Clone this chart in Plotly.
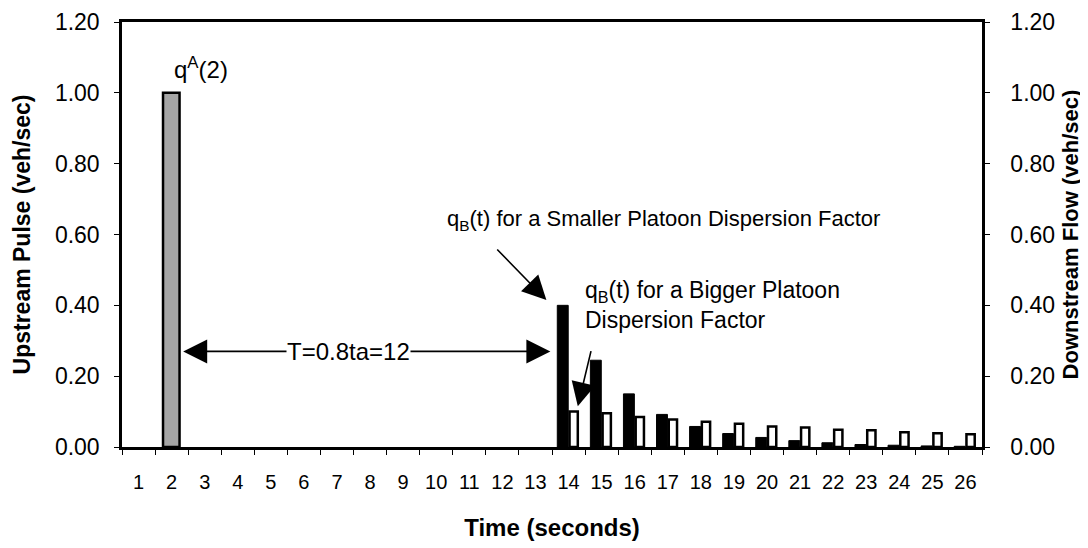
import plotly.graph_objects as go

# data
times = [str(t) for t in range(1, 27)]

pulse_t = ["2"]
pulse_q = [1.00]

flow_t = [str(t) for t in range(14, 27)]
smaller_factor = [0.40, 0.245, 0.15, 0.092, 0.058, 0.038, 0.027, 0.018, 0.012, 0.007, 0.005, 0.003, 0.002]
bigger_factor = [0.10, 0.095, 0.085, 0.078, 0.071, 0.066, 0.058, 0.055, 0.049, 0.047, 0.042, 0.039, 0.036]

y_ticks = [0, 0.2, 0.4, 0.6, 0.8, 1.0, 1.2]

FONT = "Liberation Sans, Arial, sans-serif"

fig = go.Figure()

fig.add_trace(go.Bar(
    x=pulse_t, y=pulse_q, yaxis="y",
    width=0.5, offset=-0.26,
    marker=dict(color="#a6a6a6", line=dict(color="#000000", width=2.5)),
    showlegend=False,
))
fig.add_trace(go.Bar(
    x=flow_t, y=smaller_factor, yaxis="y2",
    width=0.33, offset=-0.34,
    marker=dict(color="#000000", line=dict(color="#000000", width=1)),
    showlegend=False,
))
fig.add_trace(go.Bar(
    x=flow_t, y=bigger_factor, yaxis="y2",
    width=0.25, offset=0.03,
    marker=dict(color="#ffffff", line=dict(color="#000000", width=2.5)),
    showlegend=False,
))

arrow = dict(showarrow=True, arrowhead=2, arrowsize=3.0, arrowwidth=1.6,
             arrowcolor="#000000", axref="x", ayref="y", xref="x", yref="y", text="")

annotations = [
    # T double arrow
    dict(arrow, x=1.35, y=0.27, ax=6.3, ay=0.27),
    dict(arrow, x=12.45, y=0.27, ax=6.3, ay=0.27),
    dict(x=6.36, y=0.27, xref="x", yref="y", text="T=0.8ta=12", showarrow=False,
         font=dict(size=24, color="#000000"), bgcolor="#ffffff", borderpad=0),
    # pulse label
    dict(x=1.0, y=1.07, xref="x", yref="y", text="q<sup>A</sup>(2)", showarrow=False,
         xanchor="left", font=dict(size=24, color="#000000")),
    # smaller dispersion
    dict(x=9.25, y=0.64, xref="x", yref="y", showarrow=False, xanchor="left",
         text="q<sub>B</sub>(t) for a Smaller Platoon Dispersion Factor",
         font=dict(size=22, color="#000000")),
    dict(arrow, x=12.33, y=0.415, ax=10.8, ay=0.562),
    # bigger dispersion
    dict(x=13.45, y=0.40, xref="x", yref="y", showarrow=False, xanchor="left", align="left",
         text="q<sub>B</sub>(t) for a Bigger Platoon<br>Dispersion Factor",
         font=dict(size=23, color="#000000")),
    dict(arrow, x=13.28, y=0.115, ax=13.69, ay=0.275),
]

# the page body adds an 8px offset, so the figure is 8px smaller than the window
fig.update_layout(
    width=1080, height=540,
    margin=dict(l=114, r=106, t=14, b=101),
    paper_bgcolor="#ffffff", plot_bgcolor="#ffffff",
    font=dict(family=FONT, color="#000000", size=20),
    barmode="overlay",
    annotations=annotations,
    xaxis=dict(
        type="category", categoryorder="array", categoryarray=times,
        tickvals=times, ticktext=times, range=[-0.5, 25.5],
        tickson="boundaries", ticks="outside", ticklen=5, tickcolor="#000000",
        ticklabelstandoff=15, automargin=False,
        showline=True, linecolor="#000000", linewidth=2.5, mirror=True,
        showgrid=False, zeroline=False,
        tickfont=dict(size=20),
        title=dict(text="<b>Time (seconds)</b>", font=dict(size=24), standoff=28),
    ),
    yaxis=dict(
        range=[0, 1.2], tickvals=y_ticks, tickformat=".2f",
        ticks="outside", ticklen=5, tickcolor="#000000", ticklabelstandoff=10,
        automargin=False,
        showline=True, linecolor="#000000", linewidth=2.5,
        showgrid=False, zeroline=False,
        tickfont=dict(size=23),
        title=dict(text="<b>Upstream Pulse (veh/sec)</b>", font=dict(size=23), standoff=18),
    ),
    yaxis2=dict(
        range=[0, 1.2], tickvals=y_ticks, tickformat=".2f",
        overlaying="y", side="right",
        ticks="outside", ticklen=5, tickcolor="#000000", ticklabelstandoff=16,
        automargin=False,
        showline=True, linecolor="#000000", linewidth=2.5,
        showgrid=False, zeroline=False,
        tickfont=dict(size=23),
        title=dict(text="<b>Downstream Flow (veh/sec)</b>", font=dict(size=22), standoff=9),
    ),
)

fig.write_html("out.html")
